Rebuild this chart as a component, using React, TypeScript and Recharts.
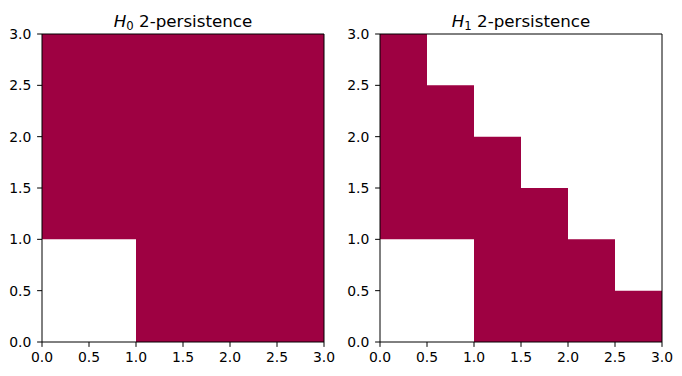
import React from "react";
import { ComposedChart, Area, XAxis, YAxis } from "recharts";

const tickValues = [0, 0.5, 1, 1.5, 2, 2.5, 3];

const h0X = [0, 1, 3];
const h0Low = [1, 0, 0];
const h0High = [3, 3, 3];

const h1X = [0, 0.5, 1, 1.5, 2, 2.5, 3];
const h1Low = [1, 1, 0, 0, 0, 0, 0];
const h1High = [3, 2.5, 2, 1.5, 1, 0.5, 0.5];

const titles = ["0", "1"];

const FILL = "#9e0142";
const FONT = "DejaVu Sans, sans-serif";

const build = (xs: number[], lo: number[], hi: number[]) =>
  xs.map((x, i) => ({ x, r: [lo[i], hi[i]] }));

const fmt = (v: number) => v.toFixed(1);

function Panel({ data, left, right }: { data: any[]; left: number; right: number }) {
  const tick = { fontSize: 13.9, fill: "#000", fontFamily: FONT };
  return (
    <ComposedChart
      width={341}
      height={376}
      data={data}
      margin={{ top: 33, bottom: 4, left: left - 40, right: right - 1 }}
    >
      <XAxis
        dataKey="x"
        type="number"
        domain={[0, 3]}
        ticks={tickValues}
        tickFormatter={fmt}
        allowDataOverflow
        height={30}
        tickSize={4.9}
        tickMargin={4.9}
        tick={tick}
        tickLine={{ stroke: "#000", strokeWidth: 1 }}
        axisLine={{ stroke: "#000", strokeWidth: 1 }}
        interval={0}
      />
      <XAxis
        xAxisId="top"
        orientation="top"
        dataKey="x"
        type="number"
        domain={[0, 3]}
        height={1}
        tick={false}
        tickLine={false}
        axisLine={{ stroke: "#000", strokeWidth: 1 }}
      />
      <YAxis
        type="number"
        domain={[0, 3]}
        ticks={tickValues}
        tickFormatter={fmt}
        allowDataOverflow
        width={40}
        tickSize={4.9}
        tickMargin={5.8}
        tick={tick}
        tickLine={{ stroke: "#000", strokeWidth: 1 }}
        axisLine={{ stroke: "#000", strokeWidth: 1 }}
        interval={0}
      />
      <YAxis
        yAxisId="right"
        orientation="right"
        type="number"
        domain={[0, 3]}
        width={1}
        tick={false}
        tickLine={false}
        axisLine={{ stroke: "#000", strokeWidth: 1 }}
      />
      <Area
        dataKey="r"
        type="stepAfter"
        fill={FILL}
        fillOpacity={1}
        stroke="none"
        isAnimationActive={false}
        dot={false}
        activeDot={false}
      />
    </ComposedChart>
  );
}

export default function App() {
  const d0 = build(h0X, h0Low, h0High);
  const d1 = build(h1X, h1Low, h1High);
  return (
    <div style={{ position: "fixed", left: 0, top: 0, width: 682, height: 376, background: "#fff" }}>
      <div style={{ position: "absolute", left: 0, top: 0 }}>
        <Panel data={d0} left={42} right={17} />
      </div>
      <div style={{ position: "absolute", left: 341, top: 0 }}>
        <Panel data={d1} left={39} right={20} />
      </div>
      <svg width={682} height={376} style={{ position: "absolute", left: 0, top: 0, pointerEvents: "none" }}>
        {[183, 521].map((cx, i) => (
          <text key={i} x={cx} y={27} textAnchor="middle" fontSize={16.7} fontFamily={FONT} fill="#000">
            <tspan fontStyle="italic">H</tspan>
            <tspan fontSize={11.7} dy={2.5}>{titles[i]}</tspan>
            <tspan dy={-2.5}> 2-persistence</tspan>
          </text>
        ))}
      </svg>
    </div>
  );
}
